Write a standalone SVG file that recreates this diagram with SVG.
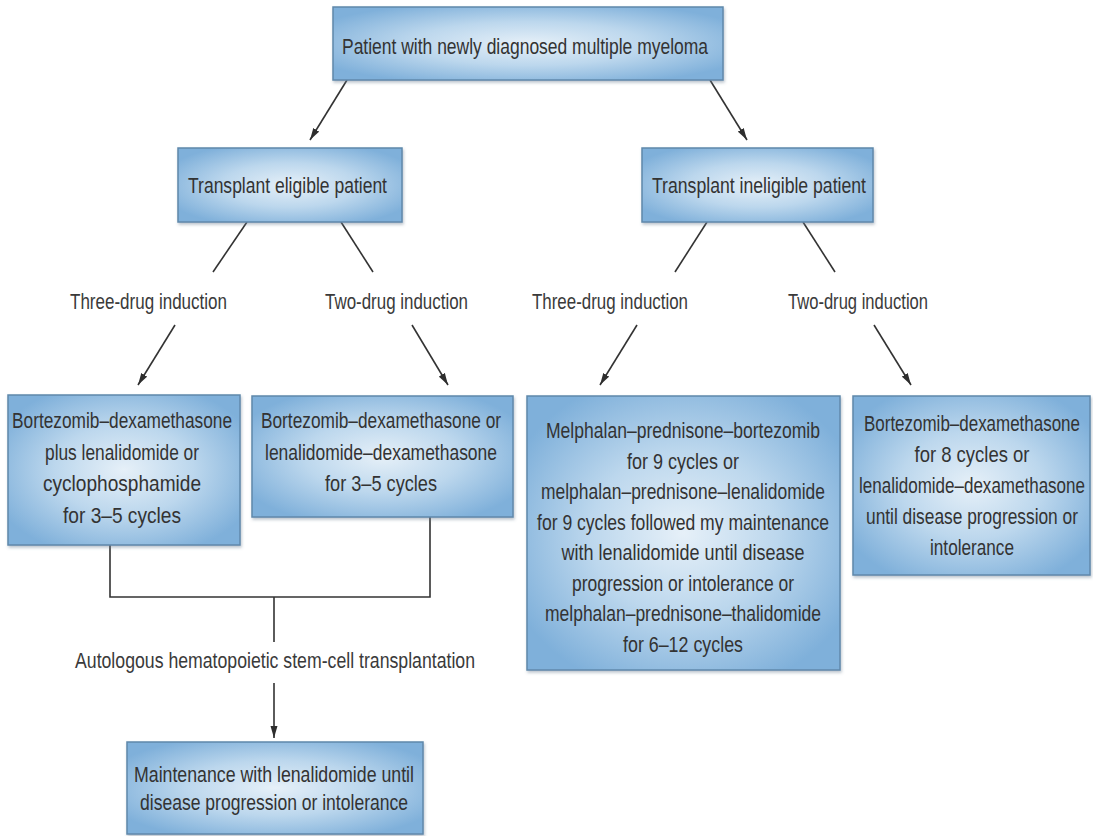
<svg xmlns="http://www.w3.org/2000/svg" width="1093" height="836" viewBox="0 0 1093 836">
  <defs>
    <radialGradient id="boxfill" cx="0.5" cy="0.5" r="0.6">
      <stop offset="0" stop-color="#e6f0f8"/>
      <stop offset="0.5" stop-color="#bcd7ed"/>
      <stop offset="1" stop-color="#7fb0da"/>
    </radialGradient>
    <marker id="arrow" markerUnits="userSpaceOnUse" markerWidth="12" markerHeight="8" viewBox="0 0 12 8" refX="12" refY="4" orient="auto">
      <path d="M0,0.5 L12,4 L0,7.5 z" fill="#2e2e2e"/>
    </marker>
    <filter id="shadow" x="-5%" y="-5%" width="110%" height="115%">
      <feDropShadow dx="1" dy="2" stdDeviation="1.5" flood-color="#6a7f93" flood-opacity="0.45"/>
    </filter>
  </defs>
  <style>
    .box { fill: url(#boxfill); stroke: #5f88ab; stroke-width: 1.5; filter: url(#shadow); }
    .t { font-family: "Liberation Sans Narrow", "Liberation Sans", Arial, sans-serif; font-size: 22px; fill: #333333; text-anchor: middle; }
    .lbl { font-family: "Liberation Sans Narrow", "Liberation Sans", Arial, sans-serif; font-size: 22px; fill: #3a3a3a; text-anchor: middle; }
    .ln { stroke: #333333; stroke-width: 1.6; fill: none; }
  </style>
  <rect width="1093" height="836" fill="#ffffff"/>

  <g id="connectors">
    <line class="ln" x1="347" y1="80" x2="310" y2="140" marker-end="url(#arrow)"/>
    <line class="ln" x1="710" y1="80" x2="747" y2="140" marker-end="url(#arrow)"/>
    <line class="ln" x1="247" y1="222" x2="213" y2="272"/>
    <line class="ln" x1="341" y1="222" x2="373" y2="272"/>
    <line class="ln" x1="707" y1="222" x2="675" y2="272"/>
    <line class="ln" x1="803" y1="222" x2="835" y2="272"/>
    <line class="ln" x1="175" y1="325" x2="138" y2="385" marker-end="url(#arrow)"/>
    <line class="ln" x1="412" y1="325" x2="448" y2="385" marker-end="url(#arrow)"/>
    <line class="ln" x1="637" y1="325" x2="600" y2="385" marker-end="url(#arrow)"/>
    <line class="ln" x1="874" y1="325" x2="911" y2="385" marker-end="url(#arrow)"/>
    <path class="ln" d="M110,545 V597 H430 V517"/>
    <line class="ln" x1="274" y1="597" x2="274" y2="642"/>
    <line class="ln" x1="274" y1="683" x2="274" y2="738" marker-end="url(#arrow)"/>
    <text class="lbl" x="148.5" y="309" textLength="157" lengthAdjust="spacingAndGlyphs">Three-drug induction</text>
    <text class="lbl" x="396.5" y="309" textLength="143" lengthAdjust="spacingAndGlyphs">Two-drug induction</text>
    <text class="lbl" x="610" y="309" textLength="156" lengthAdjust="spacingAndGlyphs">Three-drug induction</text>
    <text class="lbl" x="858" y="309" textLength="140" lengthAdjust="spacingAndGlyphs">Two-drug induction</text>
    <text class="lbl" x="275" y="668" textLength="400" lengthAdjust="spacingAndGlyphs">Autologous hematopoietic stem-cell transplantation</text>
  </g>

  <g id="node-root">
    <rect class="box" x="333" y="7" width="390" height="73"/>
    <text class="t" x="525" y="54" textLength="366" lengthAdjust="spacingAndGlyphs">Patient with newly diagnosed multiple myeloma</text>
  </g>

  <g id="node-eligible">
    <rect class="box" x="178" y="148" width="224" height="74"/>
    <text class="t" x="287.5" y="193" textLength="199" lengthAdjust="spacingAndGlyphs">Transplant eligible patient</text>
  </g>

  <g id="node-ineligible">
    <rect class="box" x="642" y="148" width="231" height="74"/>
    <text class="t" x="759" y="193" textLength="214" lengthAdjust="spacingAndGlyphs">Transplant ineligible patient</text>
  </g>

  <g id="node-eligible-three">
    <rect class="box" x="8" y="395" width="232" height="150"/>
    <text class="t" x="122" y="428" textLength="220" lengthAdjust="spacingAndGlyphs">Bortezomib–dexamethasone</text>
    <text class="t" x="122" y="459.5" textLength="154" lengthAdjust="spacingAndGlyphs">plus lenalidomide or</text>
    <text class="t" x="122" y="491" textLength="158" lengthAdjust="spacingAndGlyphs">cyclophosphamide</text>
    <text class="t" x="122" y="522.5" textLength="118" lengthAdjust="spacingAndGlyphs">for 3–5 cycles</text>
  </g>

  <g id="node-eligible-two">
    <rect class="box" x="252" y="396" width="261" height="121"/>
    <text class="t" x="381" y="428" textLength="240" lengthAdjust="spacingAndGlyphs">Bortezomib–dexamethasone or</text>
    <text class="t" x="381" y="459.5" textLength="232" lengthAdjust="spacingAndGlyphs">lenalidomide–dexamethasone</text>
    <text class="t" x="381" y="491" textLength="112" lengthAdjust="spacingAndGlyphs">for 3–5 cycles</text>
  </g>

  <g id="node-ineligible-three">
    <rect class="box" x="527" y="396" width="313" height="274"/>
    <text class="t" x="683" y="438" textLength="274" lengthAdjust="spacingAndGlyphs">Melphalan–prednisone–bortezomib</text>
    <text class="t" x="683" y="468.5" textLength="112" lengthAdjust="spacingAndGlyphs">for 9 cycles or</text>
    <text class="t" x="683" y="499" textLength="284" lengthAdjust="spacingAndGlyphs">melphalan–prednisone–lenalidomide</text>
    <text class="t" x="683" y="529.5" textLength="292" lengthAdjust="spacingAndGlyphs">for 9 cycles followed my maintenance</text>
    <text class="t" x="683" y="560" textLength="243" lengthAdjust="spacingAndGlyphs">with lenalidomide until disease</text>
    <text class="t" x="683" y="590.5" textLength="222" lengthAdjust="spacingAndGlyphs">progression or intolerance or</text>
    <text class="t" x="683" y="621" textLength="276" lengthAdjust="spacingAndGlyphs">melphalan–prednisone–thalidomide</text>
    <text class="t" x="683" y="651.5" textLength="120" lengthAdjust="spacingAndGlyphs">for 6–12 cycles</text>
  </g>

  <g id="node-ineligible-two">
    <rect class="box" x="853" y="396" width="237" height="179"/>
    <text class="t" x="972" y="431" textLength="216" lengthAdjust="spacingAndGlyphs">Bortezomib–dexamethasone</text>
    <text class="t" x="972" y="462" textLength="115" lengthAdjust="spacingAndGlyphs">for 8 cycles or</text>
    <text class="t" x="972" y="493" textLength="226" lengthAdjust="spacingAndGlyphs">lenalidomide–dexamethasone</text>
    <text class="t" x="972" y="524" textLength="212" lengthAdjust="spacingAndGlyphs">until disease progression or</text>
    <text class="t" x="972" y="555" textLength="84" lengthAdjust="spacingAndGlyphs">intolerance</text>
  </g>

  <g id="node-maintenance">
    <rect class="box" x="127" y="742" width="296" height="92"/>
    <text class="t" x="274" y="782" textLength="280" lengthAdjust="spacingAndGlyphs">Maintenance with lenalidomide until</text>
    <text class="t" x="274" y="810" textLength="268" lengthAdjust="spacingAndGlyphs">disease progression or intolerance</text>
  </g>
</svg>
